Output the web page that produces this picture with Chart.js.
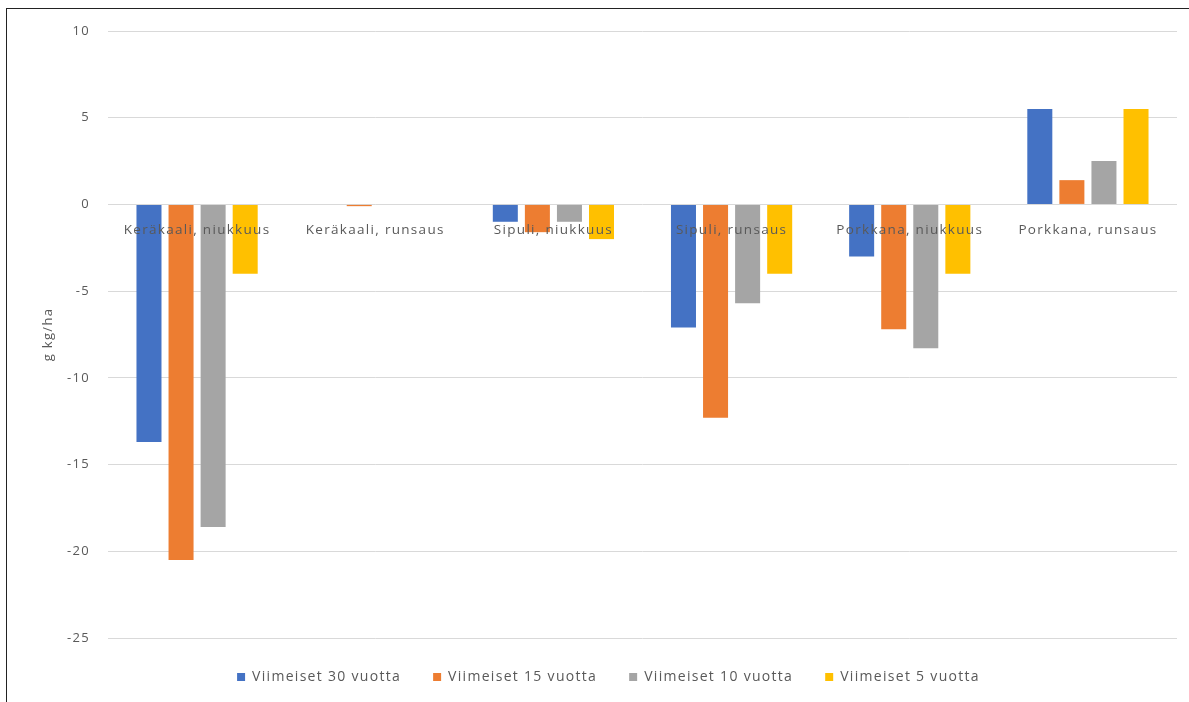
<!DOCTYPE html>
<html>
<head>
<meta charset="utf-8">
<script src="https://cdn.jsdelivr.net/npm/chart.js@4/dist/chart.umd.min.js"></script>
<style>
  html, body { margin: 0; padding: 0; background: #fff; }
  #wrap { position: relative; width: 1189px; height: 702px; }
  #frame {
    position: absolute; left: 6px; top: 8px; right: 0; bottom: 0;
    border-top: 1.5px solid #222; border-left: 1.5px solid #222;
    pointer-events: none;
  }
</style>
</head>
<body>
<div id="wrap">
  <canvas id="chart" width="1189" height="702"></canvas>
  <div id="frame"></div>
</div>
<script>
// kategoriat ja sarjat
const categories = [
  'Keräkaali, niukkuus',
  'Keräkaali, runsaus',
  'Sipuli, niukkuus',
  'Sipuli, runsaus',
  'Porkkana, niukkuus',
  'Porkkana, runsaus',
];
const seriesNames = ['Viimeiset 30 vuotta', 'Viimeiset 15 vuotta', 'Viimeiset 10 vuotta', 'Viimeiset 5 vuotta'];
const last30 = [-13.7, 0, -1.0, -7.1, -3.0, 5.5];
const last15 = [-20.5, -0.1, -1.6, -12.3, -7.2, 1.4];
const last10 = [-18.6, 0, -1.0, -5.7, -8.3, 2.5];
const last5 = [-4.0, 0, -2.0, -4.0, -4.0, 5.5];
const yTicks = [10, 5, 0, -5, -10, -15, -20, -25];
const colors = ['#4472C4', '#ED7D31', '#A5A5A5', '#FFC000'];

const FONT = '"Open Sans", Lato, sans-serif';
const TEXT = '#595959';

const values = [last30, last15, last10, last5];

// väljempi kirjainväli kaikille teksteille
const spacing = {
  id: 'spacing',
  beforeUpdate(chart) { chart.ctx.letterSpacing = '1.3px'; },
  beforeDraw(chart) { chart.ctx.letterSpacing = '1.3px'; },
};

new Chart(document.getElementById('chart').getContext('2d'), {
  type: 'bar',
  plugins: [spacing],
  data: {
    labels: categories,
    datasets: values.map((data, i) => ({
      label: seriesNames[i],
      data,
      backgroundColor: colors[i],
      borderWidth: 0,
      barPercentage: 0.78,
      categoryPercentage: 0.72,
    })),
  },
  options: {
    responsive: false,
    animation: false,
    layout: { padding: { top: 31, right: 12, bottom: 8, left: 40 } },
    plugins: {
      tooltip: { enabled: false },
      legend: {
        position: 'bottom',
        labels: {
          color: TEXT,
          font: { family: FONT, size: 14 },
          boxWidth: 8,
          boxHeight: 8,
          padding: 32,
        },
      },
    },
    scales: {
      x: {
        // kategorianimet nollaviivan alle, palkkien päälle
        position: { y: 0 },
        grid: { display: false },
        border: { display: false },
        ticks: {
          z: 1,
          color: TEXT,
          font: { family: FONT, size: 13.5 },
          padding: 10,
          maxRotation: 0,
        },
      },
      y: {
        min: -25,
        max: 10,
        afterBuildTicks: (scale) => {
          scale.ticks = yTicks.map((v) => ({ value: v }));
        },
        afterFit: (scale) => {
          scale.width = 68;
        },
        grid: { color: '#d9d9d9', lineWidth: 1, drawTicks: false },
        border: { display: false },
        ticks: {
          color: TEXT,
          font: { family: FONT, size: 13 },
          padding: 18,
        },
        title: {
          display: true,
          text: 'g kg/ha',
          color: TEXT,
          font: { family: FONT, size: 13 },
          padding: { top: 0, bottom: 0 },
        },
      },
    },
  },
});
</script>
</body>
</html>
